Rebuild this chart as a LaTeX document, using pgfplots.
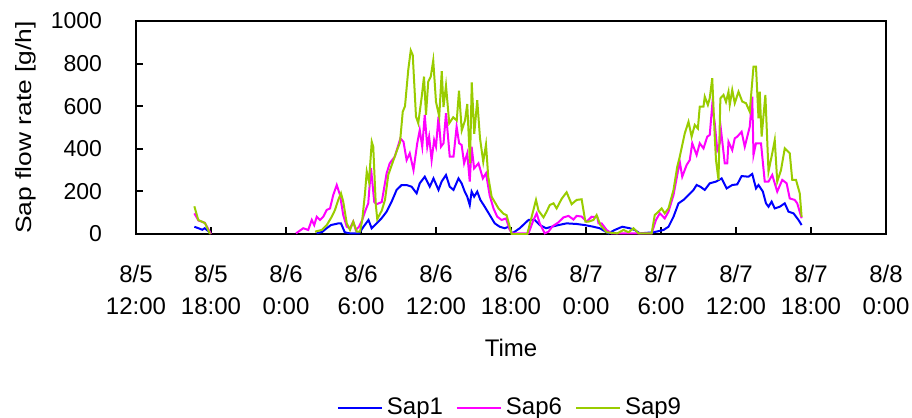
\documentclass[border=0pt]{standalone}
\usepackage{fontspec}
\setmainfont{Liberation Sans}
\newfontfamily\widefont{Liberation Sans}[FakeStretch=1.2]
\usepackage{pgfplots}
\pgfplotsset{compat=1.18}
\definecolor{sapblue}{RGB}{0,0,255}
\definecolor{sapmag}{RGB}{255,0,255}
\definecolor{sapgreen}{RGB}{153,204,0}
\begin{document}
\begin{tikzpicture}
\begin{axis}[
  at={(0,0)}, anchor=south west,
  scale only axis, width=375pt, height=106.5pt,
  xmin=0, xmax=60, ymin=0, ymax=1000,
  xtick={0,6,...,60},
  xticklabels={{8/5\\12:00},{8/5\\18:00},{8/6\\0:00},{8/6\\6:00},{8/6\\12:00},{8/6\\18:00},{8/7\\0:00},{8/7\\6:00},{8/7\\12:00},{8/7\\18:00},{8/8\\0:00}},
  ytick={0,200,...,1000},
  /pgf/number format/assume math mode=true,
  /pgf/number format/1000 sep={},
  tick align=inside, xtick pos=bottom, ytick pos=left,
  major tick length=3.5pt,
  axis line style={line width=1pt, black},
  every tick/.style={black, line width=1pt},
  xticklabel style={align=center, font=\fontsize{12}{16}\selectfont, yshift=-12pt},
  yticklabel style={font=\fontsize{11.5}{13}\selectfont, xshift=-13.5pt},
  xlabel={Time},
  xlabel style={at={(axis description cs:0.5,-0.535)}, anchor=center, font=\fontsize{12}{14}\selectfont},
  ylabel={Sap flow rate [g/h]},
  ylabel style={at={(axis description cs:-0.147,0.5)}, anchor=center, font=\widefont\fontsize{11}{13}\selectfont},
  legend style={at={(axis description cs:0.5,-0.817)}, anchor=center, draw=none, fill=none,
    legend columns=3, font=\fontsize{12}{14}\selectfont,
    /tikz/every even column/.append style={column sep=4.5pt}},
  legend image code/.code={\draw[#1] (0pt,0pt) -- (22pt,0pt);},
  unbounded coords=jump,
  every axis plot/.append style={line width=1pt},
]
\addplot[sapblue] coordinates {
(4.67,34) (5.0,27) (5.3,20) (5.5,27) (5.75,15) (5.9,11)
(6,nan)
(14.45,3) (14.9,10) (15.25,27) (15.6,42) (16.2,50) (16.4,50) (16.7,8) (17.1,3) (17.85,3) (18.2,34) (18.6,66) (18.85,27) (19.25,50) (19.65,74) (20.05,105) (20.45,152) (20.85,207) (21.25,230) (21.65,230) (22.05,222) (22.45,191) (22.7,238) (23.1,269) (23.5,222) (23.8,261) (24.2,207) (24.45,246) (24.8,277) (25.1,222) (25.4,207) (25.8,261) (26.05,238) (26.3,199) (26.5,175) (26.7,136) (26.85,199) (27.05,175) (27.3,199) (27.55,160) (27.9,128) (28.3,89) (28.7,50) (29.1,34) (29.5,27) (29.8,34) (30.1,3) (30.7,27) (31.4,66) (31.9,66) (32.3,42) (32.8,27) (33.25,34) (33.8,42) (34.45,50) (35.25,47) (35.9,42) (36.6,34) (37.1,27) (37.8,3) (38.3,19) (38.9,34) (39.5,27) (39.9,19) (40.3,3) (41.4,8) (42.2,19) (42.6,34) (43.0,81) (43.4,144) (43.8,160) (44.2,183) (44.6,207) (44.85,230) (45.15,222) (45.5,207) (45.9,238) (46.4,246) (46.85,261) (47.25,214) (47.7,230) (48.1,233) (48.45,272) (49.0,269) (49.3,282) (49.6,214) (49.8,230) (50.15,199) (50.4,144) (50.6,128) (50.85,152) (51.1,120) (51.5,128) (51.9,144) (52.2,105) (52.6,97) (53.0,66) (53.25,42)
};
\addlegendentry{Sap1}
\addplot[sapmag] coordinates {
(4.67,97) (5.0,63) (5.5,53) (5.9,11) (6.0,0)
(6.1,nan)
(12.8,3) (13.38,27) (13.78,19) (14.06,66) (14.26,42) (14.46,81) (14.72,66) (14.98,81) (15.26,113) (15.52,120) (15.78,183) (16.06,230) (16.32,183) (16.58,89) (16.86,34) (17.12,27) (17.38,58) (17.58,19) (17.84,34) (18.1,66) (18.32,105) (18.58,144) (18.8,310) (19.06,150) (19.26,140) (19.66,150) (20.05,285) (20.3,332) (20.7,363) (21.15,449) (21.4,433) (21.65,347) (21.9,379) (22.2,300) (22.5,426) (22.7,488) (22.9,410) (23.1,559) (23.3,410) (23.45,457) (23.65,347) (23.85,441) (24.0,410) (24.2,551) (24.4,410) (24.6,426) (24.8,567) (25.1,363) (25.4,363) (25.65,504) (25.85,426) (26.05,418) (26.25,332) (26.5,379) (26.7,246) (26.85,410) (27.05,308) (27.4,332) (27.75,261) (28.0,285) (28.3,180) (28.6,120) (28.9,81) (29.25,66) (29.6,73) (29.9,19) (30.1,3)
(31.4,3) (31.8,66) (32.05,97) (32.3,50) (32.7,3) (33.0,11) (33.3,35) (33.8,55) (34.2,78) (34.6,85) (35.0,68) (35.25,85) (35.65,82) (36.05,58) (36.45,81) (36.9,80) (37.0,50) (37.25,50) (37.65,19) (38.05,3)
(41.25,3) (41.6,66) (41.9,97) (42.05,89) (42.3,73) (42.6,105) (43.0,183) (43.3,277) (43.5,339) (43.7,269) (44.05,324) (44.3,347) (44.5,426) (44.85,371) (45.1,426) (45.4,402) (45.7,457) (45.9,465) (46.1,606) (46.3,520) (46.5,394) (46.7,426) (46.8,488) (47.1,332) (47.3,332) (47.4,433) (47.7,394) (47.9,449) (48.1,457) (48.45,480) (48.7,410) (48.9,457) (49.1,504) (49.3,645) (49.4,371) (49.6,426) (50.0,426) (50.3,246) (50.6,246) (50.9,277) (51.3,199) (51.7,254) (52.05,238) (52.3,167) (52.7,160) (52.9,144) (53.25,74)
};
\addlegendentry{Sap6}
\addplot[sapgreen] coordinates {
(4.67,130) (4.98,66) (5.52,51) (5.92,0)
(6.0,nan)
(14.32,11) (14.86,19) (15.26,42) (15.66,81) (15.92,113) (16.18,160) (16.4,191) (16.58,152) (16.86,50) (17.12,19) (17.38,58) (17.66,11) (17.92,11) (18.1,66) (18.32,191) (18.46,293) (18.64,246) (18.86,433) (18.98,410) (19.18,140) (19.3,70) (19.66,110) (19.92,160) (20.18,277) (20.46,324) (20.86,390) (21.12,430) (21.34,574) (21.52,600) (21.78,770) (21.98,862) (22.14,840) (22.4,551) (22.58,520) (22.86,645) (23.04,739) (23.2,560) (23.38,715) (23.58,739) (23.78,815) (24.0,620) (24.26,551) (24.46,765) (24.6,596) (24.8,697) (25.06,520) (25.38,548) (25.66,533) (25.84,673) (26.06,486) (26.32,533) (26.5,610) (26.72,332) (26.86,712) (27.06,470) (27.3,628) (27.52,450) (27.78,339) (28.0,420) (28.18,269) (28.45,175) (29.0,120) (29.4,95) (29.65,88) (30.05,0)
(31.3,0) (32.0,160) (32.2,110) (32.6,78) (32.85,105) (33.1,136) (33.4,144) (33.65,120) (34.05,165) (34.45,196) (34.85,140) (35.25,160) (35.65,163) (35.95,58) (36.2,58) (36.6,66) (36.85,89) (37.15,42) (37.65,8) (38.5,3) (39.0,19) (39.4,8) (39.8,27) (40.2,3) (41.25,3) (41.5,89) (41.8,105) (42.05,120) (42.3,97) (42.6,120) (43.0,207) (43.3,316) (43.5,363) (43.9,472) (44.2,527) (44.45,457) (44.7,512) (44.95,495) (45.1,598) (45.4,598) (45.5,645) (45.75,606) (45.9,638) (46.1,731) (46.3,457) (46.4,347) (46.6,254) (46.75,637) (47.0,653) (47.2,620) (47.4,668) (47.5,606) (47.7,676) (47.9,614) (48.2,668) (48.5,622) (48.8,614) (49.1,574) (49.4,786) (49.6,786) (49.8,543) (49.9,668) (50.05,457) (50.35,653) (50.6,293) (50.9,379) (51.1,441) (51.3,246) (51.6,300) (51.9,402) (52.3,379) (52.5,254) (52.8,254) (53.1,191) (53.25,80)
};
\addlegendentry{Sap9}
\end{axis}
\pgfresetboundingbox
\useasboundingbox (-68pt,-92pt) rectangle (388pt,117pt);
\end{tikzpicture}
\end{document}
